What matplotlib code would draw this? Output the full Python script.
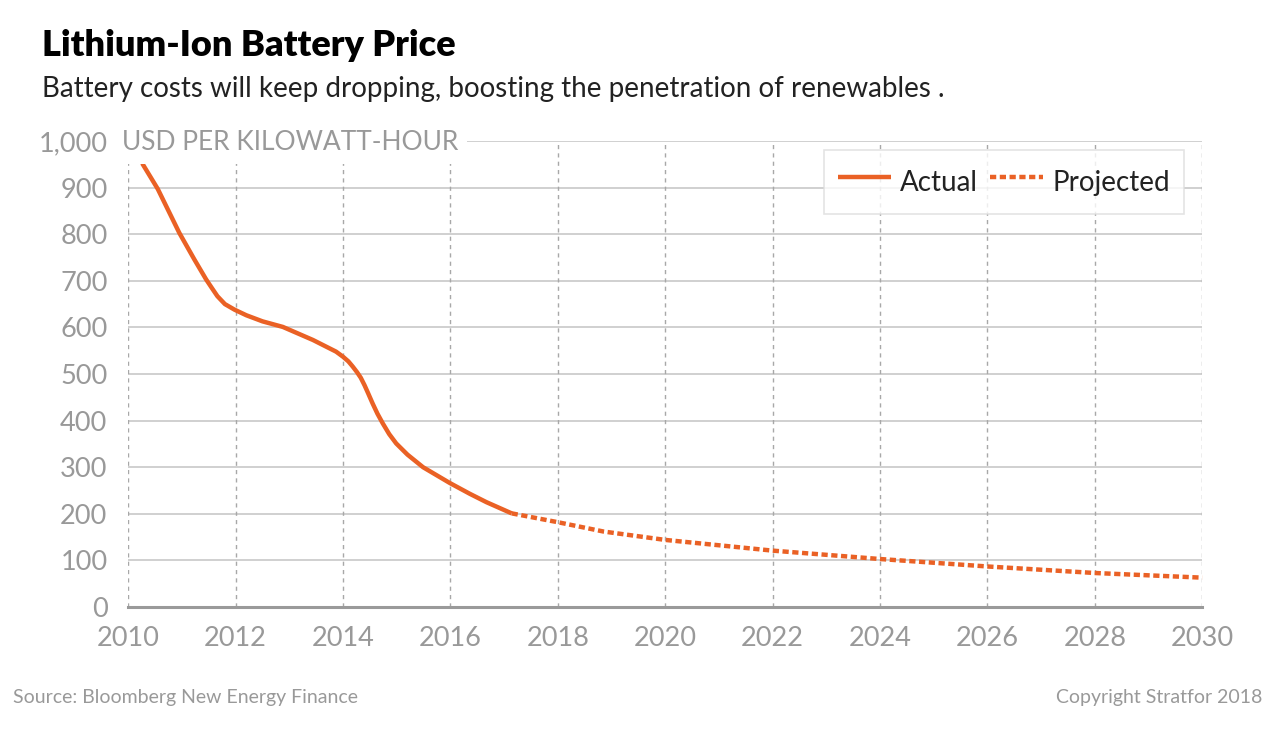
import matplotlib
matplotlib.use("Agg")
import matplotlib.pyplot as plt

# values (USD per kWh)
actual_years = [2010.26, 2010.55, 2010.95, 2011.23, 2011.45, 2011.56, 2011.66, 2011.8,
                2011.98, 2012.2, 2012.5, 2012.88, 2013.44, 2013.87, 2014.0, 2014.1,
                2014.18, 2014.26, 2014.33, 2014.4, 2014.47, 2014.55, 2014.64, 2014.74,
                2014.86, 2014.99, 2015.2, 2015.49, 2015.99, 2016.36, 2016.67, 2017.14]
actual_price = [952, 897, 803, 746, 703, 684, 667, 650,
                638, 626, 613, 601, 573, 548, 537, 527,
                516, 504, 492, 476, 458, 437, 415, 394,
                371, 351, 327, 300, 266, 243, 225, 201]

proj_years = [2017.14, 2018.0, 2018.85, 2020.0, 2022.0, 2024.0, 2026.0, 2028.0, 2030.0]
proj_price = [201, 182, 162, 144, 121, 103, 87, 73, 63]

x_ticks = list(range(2010, 2031, 2))
y_ticks = list(range(0, 1001, 100))

orange = "#EA6125"
grey_txt = "#999999"
plt.rcParams["font.family"] = ["Lato", "DejaVu Sans"]

fig = plt.figure(figsize=(12.8, 7.39), dpi=100)
ax = fig.add_axes([0.1002, 0.1786, 0.839, 0.6306])

ax.plot(actual_years, actual_price, color=orange, lw=3.2, solid_capstyle="butt",
        solid_joinstyle="round", label="Actual", clip_on=False, zorder=4)
ax.plot(proj_years, proj_price, color=orange, lw=3.2, linestyle=(0, (1.4, 0.8)),
        label="Projected", clip_on=False, zorder=4)

ax.set_xlim(2010, 2030)
ax.set_ylim(0, 1000)
ax.set_xticks(x_ticks)
ax.set_yticks(y_ticks)
ax.set_yticklabels([f"{v:,}" for v in y_ticks])

for y in y_ticks[1:]:
    ax.axhline(y, color="#c4c4c4", lw=1.1, zorder=1)
for x in x_ticks:
    ax.axvline(x, color="#a8a8a8", lw=1.0, linestyle=(0, (3, 3)), zorder=1)

for s in ["top", "right", "left"]:
    ax.spines[s].set_visible(False)
ax.spines["bottom"].set_color("#9a9a9a")
ax.spines["bottom"].set_linewidth(2.2)
ax.spines["bottom"].set_zorder(3)

ax.tick_params(axis="both", length=0, labelsize=19.5, labelcolor=grey_txt)
ax.tick_params(axis="y", pad=15)
ax.tick_params(axis="x", pad=14)

# unit label sits next to the 1,000 tick, masking grid behind it
fig.text(122 / 1280, 1 - 143 / 739, "USD PER KILOWATT-HOUR", fontsize=19, color=grey_txt,
         va="center", ha="left",
         bbox=dict(facecolor="white", edgecolor="none", pad=6))

leg = ax.legend(loc="upper right", bbox_to_anchor=(0.983, 0.981), ncol=2, fontsize=20,
                frameon=True, fancybox=False, handlelength=1.9, handleheight=1.65,
                columnspacing=0.45, handletextpad=0.33, borderpad=0.5, borderaxespad=0)
leg.get_frame().set_edgecolor("#dddddd")
leg.get_frame().set_linewidth(1.2)
for t in leg.get_texts():
    t.set_color("#222222")

fig.text(42 / 1280, 1 - 45 / 739, "Lithium-Ion Battery Price", fontsize=26,
         fontweight="heavy", color="black", va="center", ha="left")
fig.text(42 / 1280, 1 - 89 / 739,
         "Battery costs will keep dropping, boosting the penetration of renewables .",
         fontsize=20, color="#222222", va="center", ha="left")

fig.text(13 / 1280, 1 - 698 / 739, "Source: Bloomberg New Energy Finance", fontsize=14,
         color=grey_txt, va="center", ha="left")
fig.text(1262 / 1280, 1 - 698 / 739, "Copyright Stratfor 2018", fontsize=14,
         color=grey_txt, va="center", ha="right")

fig.savefig("out.png", dpi=100)
